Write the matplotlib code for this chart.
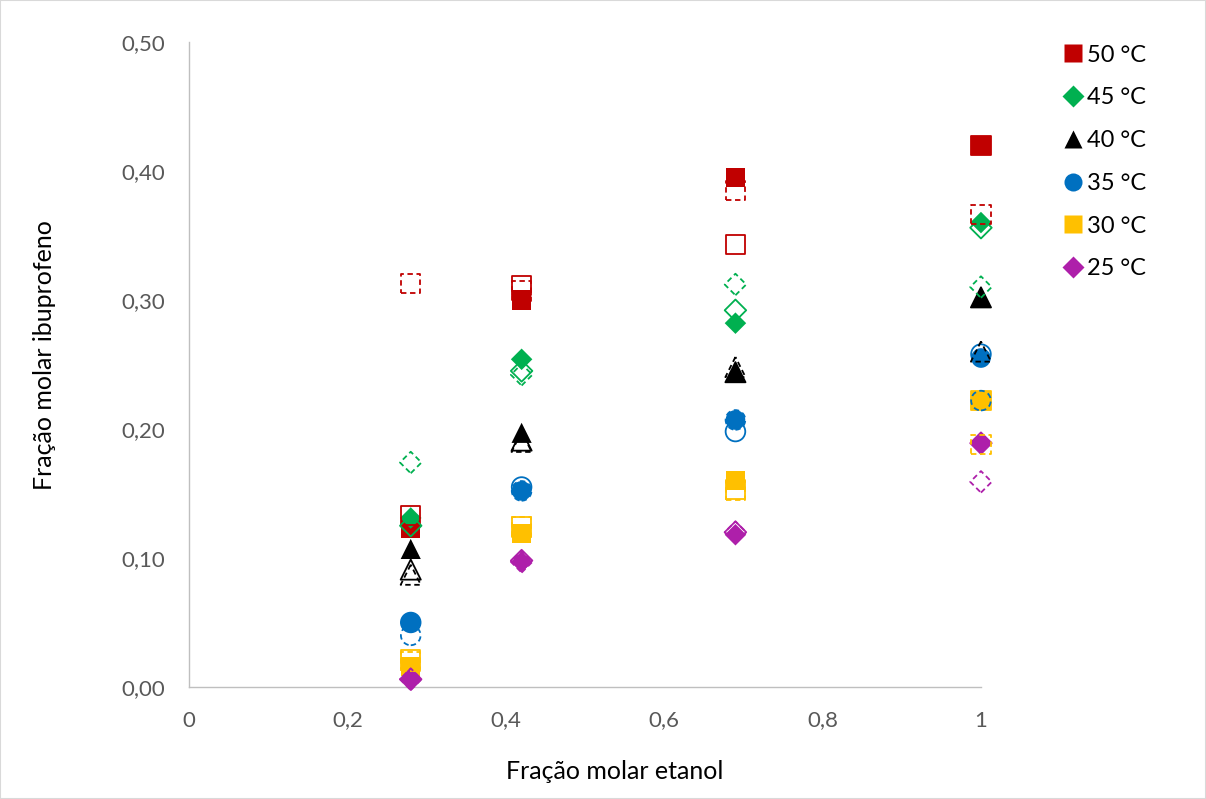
import matplotlib
matplotlib.use("Agg")
import matplotlib.pyplot as plt
from matplotlib.lines import Line2D
from matplotlib.patches import Rectangle

plt.rcParams['font.family'] = ['Lato', 'DejaVu Sans']

x_etanol = [0.28, 0.42, 0.69, 1.0]
temperatures = ["50 °C", "45 °C", "40 °C", "35 °C", "30 °C", "25 °C"]
colors = ["#C00000", "#00B050", "#000000", "#0070C0", "#FFC000", "#AE1FAA"]
markers = ["s", "D", "^", "o", "s", "D"]

# experimental (filled markers)
exp_50 = [0.123, 0.300, 0.395, 0.420]
exp_45 = [0.131, 0.254, 0.282, 0.360]
exp_40 = [0.107, 0.197, 0.244, 0.302]
exp_35 = [0.050, 0.152, 0.207, 0.255]
exp_30 = [0.016, 0.119, 0.160, 0.222]
exp_25 = [0.006, 0.097, 0.118, 0.189]

# model 1 (open markers, solid edge)
m1_50 = [0.133, 0.311, 0.343, 0.420]
m1_45 = [0.125, 0.245, 0.292, 0.356]
m1_40 = [0.091, 0.191, 0.244, 0.302]
m1_35 = [0.050, 0.155, 0.198, 0.258]
m1_30 = [0.021, 0.124, 0.153, 0.222]
m1_25 = [0.006, 0.098, 0.120, 0.189]

# model 2 (open markers, dashed edge)
m2_50 = [0.313, 0.307, 0.385, 0.366]
m2_45 = [0.174, 0.242, 0.312, 0.310]
m2_40 = [0.087, 0.190, 0.248, 0.260]
m2_35 = [0.040, 0.152, 0.207, 0.222]
m2_30 = [0.020, 0.124, 0.152, 0.188]
m2_25 = [0.006, 0.097, 0.120, 0.159]

exp_all = [exp_50, exp_45, exp_40, exp_35, exp_30, exp_25]
m1_all = [m1_50, m1_45, m1_40, m1_35, m1_30, m1_25]
m2_all = [m2_50, m2_45, m2_40, m2_35, m2_30, m2_25]

yticks = [0.0, 0.1, 0.2, 0.3, 0.4, 0.5]
ytick_labels = ["0,00", "0,10", "0,20", "0,30", "0,40", "0,50"]
xticks = [0, 0.2, 0.4, 0.6, 0.8, 1.0]
xtick_labels = ["0", "0,2", "0,4", "0,6", "0,8", "1"]

sizes = {"s": 190, "D": 120, "^": 210, "o": 200}

fig = plt.figure(figsize=(12.06, 7.99), dpi=100)
ax = fig.add_axes([0.1567, 0.1402, 0.6567, 0.8073])

for i in range(6):
    ax.scatter(x_etanol, exp_all[i], marker=markers[i], s=sizes[markers[i]],
               color=colors[i], edgecolors='none', zorder=3, clip_on=False)
for i in range(6):
    ax.scatter(x_etanol, m1_all[i], marker=markers[i], s=sizes[markers[i]],
               facecolors='none', edgecolors=colors[i], linewidths=1.3,
               zorder=4, clip_on=False)
for i in range(6):
    ax.scatter(x_etanol, m2_all[i], marker=markers[i], s=sizes[markers[i]],
               facecolors='none', edgecolors=colors[i], linewidths=1.3,
               linestyles=(0, (3, 2)), zorder=5, clip_on=False)

ax.set_xlim(0, 1)
ax.set_ylim(0, 0.5)
ax.set_xticks(xticks)
ax.set_xticklabels(xtick_labels)
ax.set_yticks(yticks)
ax.set_yticklabels(ytick_labels)
ax.tick_params(axis='both', length=0, labelsize=16, colors='#595959')
ax.tick_params(axis='y', pad=17)
ax.tick_params(axis='x', pad=17)
for s in ['top', 'right']:
    ax.spines[s].set_visible(False)
for s in ['left', 'bottom']:
    ax.spines[s].set_color('#BFBFBF')
    ax.spines[s].set_linewidth(1.0)

fig.text(0.5095, 0.0338, "Fração molar etanol", fontsize=18, ha='center', va='center')
fig.text(0.0373, 0.5557, "Fração molar ibuprofeno", fontsize=18, ha='center',
         va='center', rotation=90)

handles = [Line2D([0], [0], marker=markers[i], color='none', markerfacecolor=colors[i],
                  markeredgecolor='none', markersize=13 if markers[i] != 'D' else 11)
           for i in range(6)]
fig.legend(handles, temperatures, loc='upper left', bbox_to_anchor=(0.877, 0.953),
           frameon=False, fontsize=17, handlelength=0.7, handletextpad=0.25,
           labelspacing=0.92, borderaxespad=0, borderpad=0.3)

fig.patches.append(Rectangle((0, 0), 1, 1, transform=fig.transFigure, fill=False,
                             edgecolor='#D9D9D9', linewidth=1.5))

fig.savefig("out.png", dpi=100)
